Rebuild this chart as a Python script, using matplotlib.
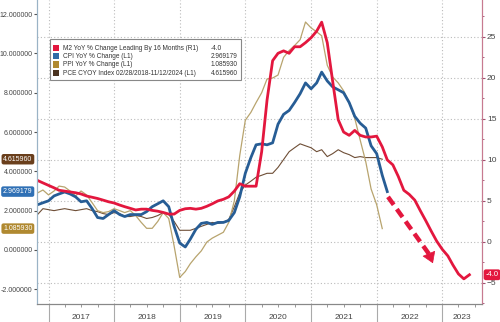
import pandas as pd
import matplotlib.pyplot as plt
import matplotlib.dates as mdates
from matplotlib.patches import Rectangle
from matplotlib.transforms import blended_transform_factory as blend

# 数据（按月，自 2016-11 起）
cpi = [2.3, 2.4, 2.5, 2.75, 2.85, 2.95, 2.85, 2.7, 2.45, 2.5, 2.1, 1.65, 1.6, 1.8, 2.0, 1.8,
       1.7, 1.8, 1.8, 1.8, 1.95, 2.2, 2.35, 2.5, 2.2, 1.2, 0.35, 0.15, 0.55, 1.05, 1.35, 1.4,
       1.3, 1.4, 1.4, 1.5, 1.9, 2.7, 3.9, 4.7, 5.35, 5.4, 5.35, 5.45, 6.4, 6.9, 7.1, 7.5,
       7.95, 8.5, 8.2, 8.5, 9.05, 8.6, 8.3, 8.15, 8.0, 7.5, 6.8, 6.45, 6.2, 5.3, 4.9, 3.8, 2.969179]
ppi = [2.9, 3.05, 2.8, 3.0, 3.25, 3.2, 3.0, 2.75, 3.0, 2.8, 2.4, 2.0, 1.9, 1.95, 2.1, 2.0,
       1.9, 2.0, 1.75, 1.4, 1.1, 1.1, 1.45, 1.9, 1.6, 0.2, -1.4, -1.1, -0.7, -0.35, -0.05, 0.4,
       0.6, 0.75, 0.9, 1.4, 2.5, 4.8, 6.6, 7.0, 7.5, 8.0, 8.7, 8.75, 8.9, 9.8, 10.15, 10.4,
       10.7, 11.6, 11.3, 11.1, 10.9, 9.4, 8.8, 8.5, 8.1, 7.5, 6.7, 5.6, 4.5, 3.1, 2.3, 1.085930]
pce = [1.8, 2.1, 2.05, 2.0, 2.05, 2.1, 2.05, 2.0, 2.05, 2.1, 2.0, 1.95, 1.85, 1.8, 1.9, 1.85,
       1.7, 1.7, 1.75, 1.7, 1.6, 1.65, 1.75, 1.9, 1.8, 1.45, 1.0, 1.0, 1.0, 1.1, 1.2, 1.3,
       1.4, 1.35, 1.4, 1.55, 2.2, 2.9, 3.3, 3.5, 3.7, 3.8, 3.9, 3.9, 4.2, 4.6, 5.0, 5.2,
       5.4, 5.3, 5.2, 5.0, 5.1, 4.75, 4.9, 5.1, 4.95, 4.85, 4.7, 4.75, 4.7, 4.7, 4.7, 4.615960]
m2_lead = [7.5, 7.2, 6.9, 6.6, 6.3, 6.2, 6.1, 6.0, 5.85, 5.6, 5.45, 5.3, 5.1, 4.9, 4.75, 4.5,
           4.3, 4.1, 3.9, 4.0, 4.0, 3.85, 3.75, 3.6, 3.4, 3.4, 3.85, 4.05, 4.1, 4.0, 4.1, 4.35,
           4.65, 5.0, 5.2, 5.5, 6.2, 7.1, 6.8, 6.8, 6.8, 11.0, 17.3, 22.1, 23.0, 23.3, 23.0, 23.8,
           23.8, 24.3, 24.9, 25.7, 26.8, 24.3, 19.6, 14.9, 13.4, 13.0, 13.6, 13.0, 12.8, 12.8, 12.9, 11.6,
           10.0, 9.4, 8.0, 6.3, 5.8, 5.1, 3.8, 2.6, 1.3, 0.1, -0.9, -1.7, -2.8, -3.9, -4.5, -4.0]

start = "2016-11-01"
d_left = pd.date_range(start, periods=len(cpi), freq="MS")
d_ppi = pd.date_range(start, periods=len(ppi), freq="MS")
d_pce = pd.date_range(start, periods=len(pce), freq="MS")
d_m2 = pd.date_range(start, periods=len(m2_lead), freq="MS")

years = [2017, 2018, 2019, 2020, 2021, 2022, 2023]

red = "#e3173e"
blue = "#275d95"
olive = "#b8a46e"
brown = "#6e4e36"
fam = ["Liberation Sans", "DejaVu Sans"]

fig = plt.figure(figsize=(5, 3.22), dpi=100)
ax = fig.add_axes([0.074, 0.056, 0.89, 0.944])
ax2 = ax.twinx()

ax.plot(d_pce, pce, color=brown, lw=0.8)
ax.plot(d_ppi, ppi, color=olive, lw=0.9)
ax.plot(d_left, cpi, color=blue, lw=2.0)
ax2.plot(d_m2, m2_lead, color=red, lw=2.0)

# 虚线箭头
a0 = (pd.Timestamp("2022-03-05"), 5.5)
a1 = (pd.Timestamp("2022-10-20"), -1.5)
a2 = (pd.Timestamp("2022-11-10"), -2.6)
ax2.plot([a0[0], a1[0]], [a0[1], a1[1]], color=red, lw=3.2, ls=(0, (2.2, 1.2)))
ax2.annotate("", xy=a2, xytext=a1,
             arrowprops=dict(arrowstyle="-|>,head_length=0.7,head_width=0.45",
                             color=red, lw=0.5, shrinkA=0, shrinkB=0))

ax.set_xlim(pd.Timestamp("2016-10-29"), pd.Timestamp("2023-08-10"))
ax.set_ylim(-2.75, 12.72)
ax2.set_ylim(-7.56, 29.5)

# 网格
ax.xaxis.set_major_locator(mdates.YearLocator())
ax.xaxis.set_minor_locator(mdates.MonthLocator(bymonth=[4, 7, 10]))
ax.xaxis.set_major_formatter(plt.NullFormatter())
ax.tick_params(axis="x", which="major", length=13, color="#aaaaaa", width=0.8)
ax.tick_params(axis="x", which="minor", length=2.5, color="#888888", width=0.6)
ax.grid(axis="x", which="major", color="#bbbbbb", ls=(0, (1, 2)), lw=0.8)
rticks = [-5, 0, 5, 10, 15, 20, 25]
tr = blend(ax.transAxes, ax2.transData)
for r in rticks:
    ax.plot([0, 1], [r, r], transform=tr, color="#bbbbbb", ls=(0, (1, 2)), lw=0.8, zorder=0)

for i, y in enumerate(years):
    x0 = pd.Timestamp(f"{y}-01-01")
    x1 = min(pd.Timestamp(f"{y + 1}-01-01"), pd.Timestamp("2023-08-10"))
    ax.text(x0 + (x1 - x0) / 2, -0.045, str(y), transform=blend(ax.transData, ax.transAxes),
            ha="center", va="center", fontsize=6.0, color="#444444", family=fam)

# 左轴
ax.set_yticks([-2, 0, 2, 4, 6, 8, 10, 12])
ax.yaxis.set_major_formatter(plt.FormatStrFormatter("%.6f"))
ax.tick_params(axis="y", length=2, pad=1.2, labelsize=5.0, labelcolor="#444444", color="#555555")
for t in ax.get_yticklabels():
    t.set_family(fam)

# 右轴
ax2.set_yticks(rticks)
ax2.set_yticks([-7.5, -2.5, 2.5, 7.5, 12.5, 17.5, 22.5, 27.5], minor=True)
ax2.tick_params(axis="y", length=2, pad=1.5, labelsize=6.0, labelcolor="#444444", color="#a05070")
ax2.tick_params(axis="y", which="minor", length=1.5, color="#a05070")
for t in ax2.get_yticklabels():
    t.set_family(fam)

for a in (ax, ax2):
    a.spines["top"].set_visible(False)
    a.spines["left"].set_color("#9ab3c6")
    a.spines["right"].set_color("#c77a90")
    a.spines["bottom"].set_color("#888888")

# 末值标签
tl = blend(ax.transAxes, ax.transData)
for val, txt, c in [(4.615960, "4.615960", "#6a3f1c"), (2.969179, "2.969179", "#2f70b5"),
                    (1.085930, "1.085930", "#b08930")]:
    ax.text(-0.01, val, txt, transform=tl, ha="right", va="center", fontsize=5.0,
            color="white", family=fam,
            bbox=dict(boxstyle="round,pad=0.25,rounding_size=0.3", fc=c, ec="none"))
ax2.text(1.008, -4.0, "-4.0", transform=blend(ax2.transAxes, ax2.transData), ha="left",
         va="center", fontsize=5.5, color="white", family=fam,
         bbox=dict(boxstyle="round,pad=0.25,rounding_size=0.3", fc=red, ec="none"))

# 图例
names = ["M2 YoY % Change Leading By 16 Months (R1)", "CPI YoY % Change (L1)",
         "PPI YoY % Change (L1)", "PCE CYOY Index 02/28/2018-11/12/2024 (L1)"]
vals = ["-4.0", "2.969179", "1.085930", "4.615960"]
cols = [red, "#2f6aa6", "#b08930", "#4a3320"]
ax2.add_patch(Rectangle((0.029, 0.737), 0.429, 0.135, transform=ax2.transAxes,
                        fc="white", ec="#888888", lw=0.8, zorder=5))
for i, (n, v, c) in enumerate(zip(names, vals, cols)):
    yy = 0.842 - i * 0.0275
    ax2.add_patch(Rectangle((0.036, yy - 0.01), 0.014, 0.021, transform=ax2.transAxes,
                            fc=c, ec="none", zorder=6))
    ax2.text(0.058, yy, n, transform=ax2.transAxes, va="center", fontsize=4.7,
             color="#333333", family=fam, zorder=6)
    ax2.text(0.391, yy, v, transform=ax2.transAxes, va="center", fontsize=4.7,
             color="#333333", family=fam, zorder=6)

fig.savefig("out.png", dpi=100)
